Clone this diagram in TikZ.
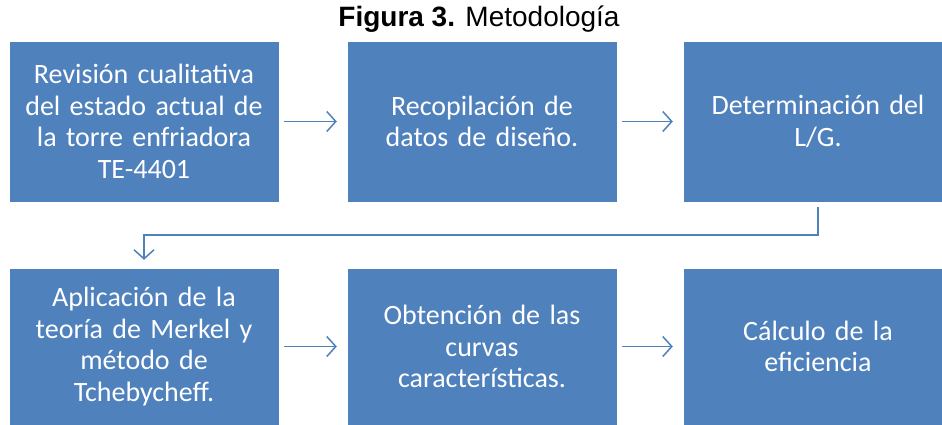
\documentclass[tikz,border=0pt]{standalone}
\usepackage{fontspec}
\usetikzlibrary{arrows.meta}
\setmainfont{Carlito}
\newfontfamily\titlefont{Liberation Sans}
\definecolor{azulpaso}{HTML}{4F81BD}

\tikzset{
  paso/.style={fill=azulpaso, draw=azulpaso, minimum width=268pt, text width=258pt,
    align=center, text=white, font=\fontsize{28}{31.5}\selectfont, inner sep=0pt},
  flecha/.style={draw=azulpaso, line width=1.5pt,
    -{Straight Barb[length=9pt,width=20pt,line width=1.5pt]}}
}

\begin{document}
\begin{tikzpicture}[x=1pt,y=1pt]
\useasboundingbox (0,0) rectangle (942,425);
\fill[white] (0,0) rectangle (942,425);

\node[font=\titlefont\fontsize{28}{32}\selectfont] (titulo) at (479,406) {\textbf{Figura 3.} Metodología};

% primera fila
\node[paso, minimum height=159pt] (p1) at (144,303.5) {Revisión cualitativa\\del estado actual de\\la torre enfriadora\\TE-4401};
\node[paso, minimum height=159pt] (p2) at (482,303.5) {Recopilación de\\datos de diseño.};
\node[paso, minimum height=159pt] (p3) at (818,303.5) {Determinación del\\L/G.};

% segunda fila
\node[paso, minimum height=155pt] (p4) at (144,78.5) {Aplicación de la\\teoría de Merkel y\\método de\\Tchebycheff.};
\node[paso, minimum height=155pt] (p5) at (482,78.5) {Obtención de las\\curvas\\características.};
\node[paso, minimum height=155pt] (p6) at (818,78.5) {Cálculo de la\\eficiencia};

\draw[flecha, shorten <=6pt, shorten >=11pt] (p1.east) -- (p2.west);
\draw[flecha, shorten <=6pt, shorten >=11pt] (p2.east) -- (p3.west);
\draw[flecha, shorten <=6pt, shorten >=9pt] (p3.south) -- ++(0,-34) -| (p4.north);
\draw[flecha, shorten <=6pt, shorten >=11pt] (p4.east) -- (p5.west);
\draw[flecha, shorten <=6pt, shorten >=11pt] (p5.east) -- (p6.west);

\end{tikzpicture}
\end{document}
